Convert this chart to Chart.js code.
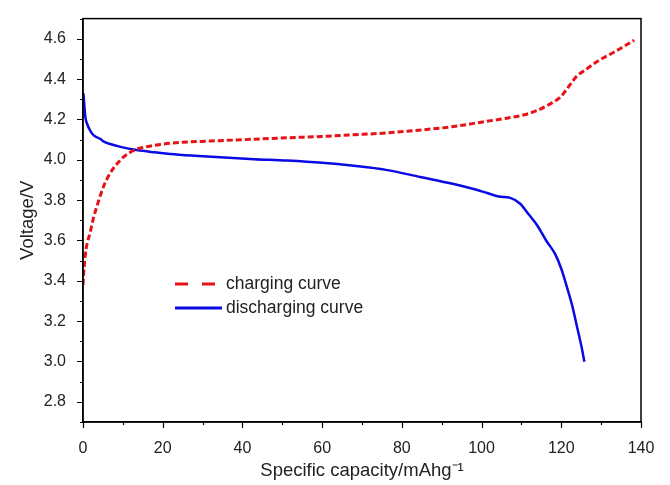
<!DOCTYPE html>
<html>
<head>
<meta charset="utf-8">
<script src="https://cdn.jsdelivr.net/npm/chart.js@4.4.1/dist/chart.umd.min.js"></script>
<style>
  html, body { margin: 0; padding: 0; background: #fff; }
  #wrap { width: 670px; height: 485px; }
</style>
</head>
<body>
<div id="wrap"><canvas id="chart" width="670" height="485"></canvas></div>
<script>
// charging curve (red dashed)
const chargeCapacity = [0, 0.3, 0.8, 1.8, 2.6, 3.5, 4.3, 5.2, 6.4, 7.7, 9, 10.2, 11.5, 12.7, 14, 16, 19, 22, 27, 34.5,
  43, 51, 60, 68, 76, 85, 93, 101, 106, 110.5, 114, 117, 119.7, 121, 122.3, 123.9, 126, 128.1, 130.5, 133.1, 135.7, 138.3];
const chargeVoltage = [3.38, 3.47, 3.56, 3.64, 3.71, 3.77, 3.82, 3.87, 3.92, 3.96, 3.99, 4.015, 4.033, 4.046, 4.056, 4.065, 4.075, 4.082, 4.089, 4.095,
  4.102, 4.109, 4.116, 4.124, 4.133, 4.148, 4.165, 4.19, 4.205, 4.222, 4.245, 4.275, 4.31, 4.34, 4.375, 4.415, 4.445, 4.475, 4.505, 4.532, 4.562, 4.593];

// discharging curve (blue solid)
const dischargeCapacity = [0.1, 0.3, 0.6, 1, 1.8, 2.7, 4.3, 5.2, 7, 9.4, 13.5, 18, 21.9, 28, 34.4, 43, 51.2, 60, 67.9, 76,
  84.6, 93, 98, 101.4, 104.3, 107.2, 109.7, 111.8, 113.9, 116.2, 118.5, 120, 121.4, 122.7, 123.9, 125, 125.8];
const dischargeVoltage = [4.33, 4.28, 4.21, 4.18, 4.145, 4.121, 4.104, 4.09, 4.077, 4.064, 4.048, 4.037, 4.029, 4.02, 4.012, 4.003, 3.996, 3.985, 3.97, 3.95,
  3.915, 3.88, 3.855, 3.835, 3.818, 3.811, 3.782, 3.73, 3.677, 3.6, 3.531, 3.46, 3.37, 3.28, 3.176, 3.08, 2.999];

const xTicks = [0, 20, 40, 60, 80, 100, 120, 140];
const yTicks = [2.8, 3.0, 3.2, 3.4, 3.6, 3.8, 4.0, 4.2, 4.4, 4.6];

const seriesLabels = ["charging curve", "discharging curve"];

const FONT = "'Liberation Sans', Arial, Helvetica, sans-serif";

function toPoints(xs, ys) {
  return xs.map((x, i) => ({ x: x, y: ys[i] }));
}

// frame, minor/major tick marks and the in-plot legend
const decorPlugin = {
  id: "decor",
  afterDraw(chart) {
    const ctx = chart.ctx;
    const area = chart.chartArea;
    const xs = chart.scales.x;
    const ys = chart.scales.y;
    ctx.save();
    ctx.strokeStyle = "#000";
    ctx.lineWidth = 1.5;
    ctx.strokeRect(area.left, area.top, area.right - area.left, area.bottom - area.top);

    ctx.lineWidth = 1.2;
    ctx.beginPath();
    for (let v = 0; v <= 140; v += 10) {
      const px = Math.round(xs.getPixelForValue(v)) + 0.5;
      const len = xTicks.includes(v) ? 6 : 3;
      ctx.moveTo(px, area.bottom);
      ctx.lineTo(px, area.bottom + len);
    }
    for (let i = 27; i <= 47; i++) {
      const v = i / 10;
      const py = Math.round(ys.getPixelForValue(v)) + 0.5;
      const len = i % 2 === 0 ? 6 : 3;
      ctx.moveTo(area.left, py);
      ctx.lineTo(area.left - len, py);
    }
    ctx.stroke();

    // legend
    const ds = chart.data.datasets;
    const rows = [
      { y: 284, x1: 175, x2: 215, dash: [13, 14] },
      { y: 308, x1: 175, x2: 222, dash: [] }
    ];
    rows.forEach((r, i) => {
      ctx.beginPath();
      ctx.strokeStyle = ds[i].borderColor;
      ctx.lineWidth = 3;
      ctx.setLineDash(r.dash);
      ctx.moveTo(r.x1, r.y);
      ctx.lineTo(r.x2, r.y);
      ctx.stroke();
      ctx.setLineDash([]);
      ctx.fillStyle = "#222";
      ctx.font = "17.5px " + FONT;
      ctx.textBaseline = "middle";
      ctx.fillText(ds[i].label, 226, r.y);
    });
    ctx.restore();
  }
};

new Chart(document.getElementById("chart").getContext("2d"), {
  type: "scatter",
  data: {
    datasets: [
      {
        label: seriesLabels[0],
        data: toPoints(chargeCapacity, chargeVoltage),
        showLine: true,
        borderColor: "rgb(232,18,22)",
        borderWidth: 3,
        borderDash: [6, 3],
        pointRadius: 0,
        cubicInterpolationMode: "monotone"
      },
      {
        label: seriesLabels[1],
        data: toPoints(dischargeCapacity, dischargeVoltage),
        showLine: true,
        borderColor: "rgb(10,10,228)",
        borderWidth: 2.5,
        pointRadius: 0,
        cubicInterpolationMode: "monotone"
      }
    ]
  },
  options: {
    responsive: false,
    animation: false,
    layout: { padding: { top: 7, right: 29, left: 0, bottom: 0 } },
    plugins: {
      legend: { display: false },
      tooltip: { enabled: false }
    },
    scales: {
      x: {
        type: "linear",
        min: 0,
        max: 140,
        afterFit(scale) { scale.height = 63; },
        afterBuildTicks(scale) { scale.ticks = xTicks.map(v => ({ value: v })); },
        grid: { display: false },
        border: { display: true, color: "#000", width: 1.5 },
        ticks: { color: "#222", padding: 9, maxRotation: 0, font: { family: FONT, size: 16 } },
        title: {
          display: true,
          text: "Specific capacity/mAhg\u207B\u00B9",
          color: "#222",
          padding: { top: 3, bottom: 3 },
          font: { family: FONT, size: 18.5 }
        }
      },
      y: {
        min: 2.7,
        max: 4.7,
        afterFit(scale) { scale.width = 83; },
        afterBuildTicks(scale) { scale.ticks = yTicks.map(v => ({ value: v })); },
        grid: { display: false },
        border: { display: true, color: "#000", width: 1.5 },
        ticks: {
          color: "#222",
          padding: 9,
          font: { family: FONT, size: 16 },
          callback: v => v.toFixed(1)
        },
        title: {
          display: true,
          text: "Voltage/V",
          color: "#222",
          padding: { top: 17, bottom: 4 },
          font: { family: FONT, size: 18.5 }
        }
      }
    }
  },
  plugins: [decorPlugin]
});
</script>
</body>
</html>
